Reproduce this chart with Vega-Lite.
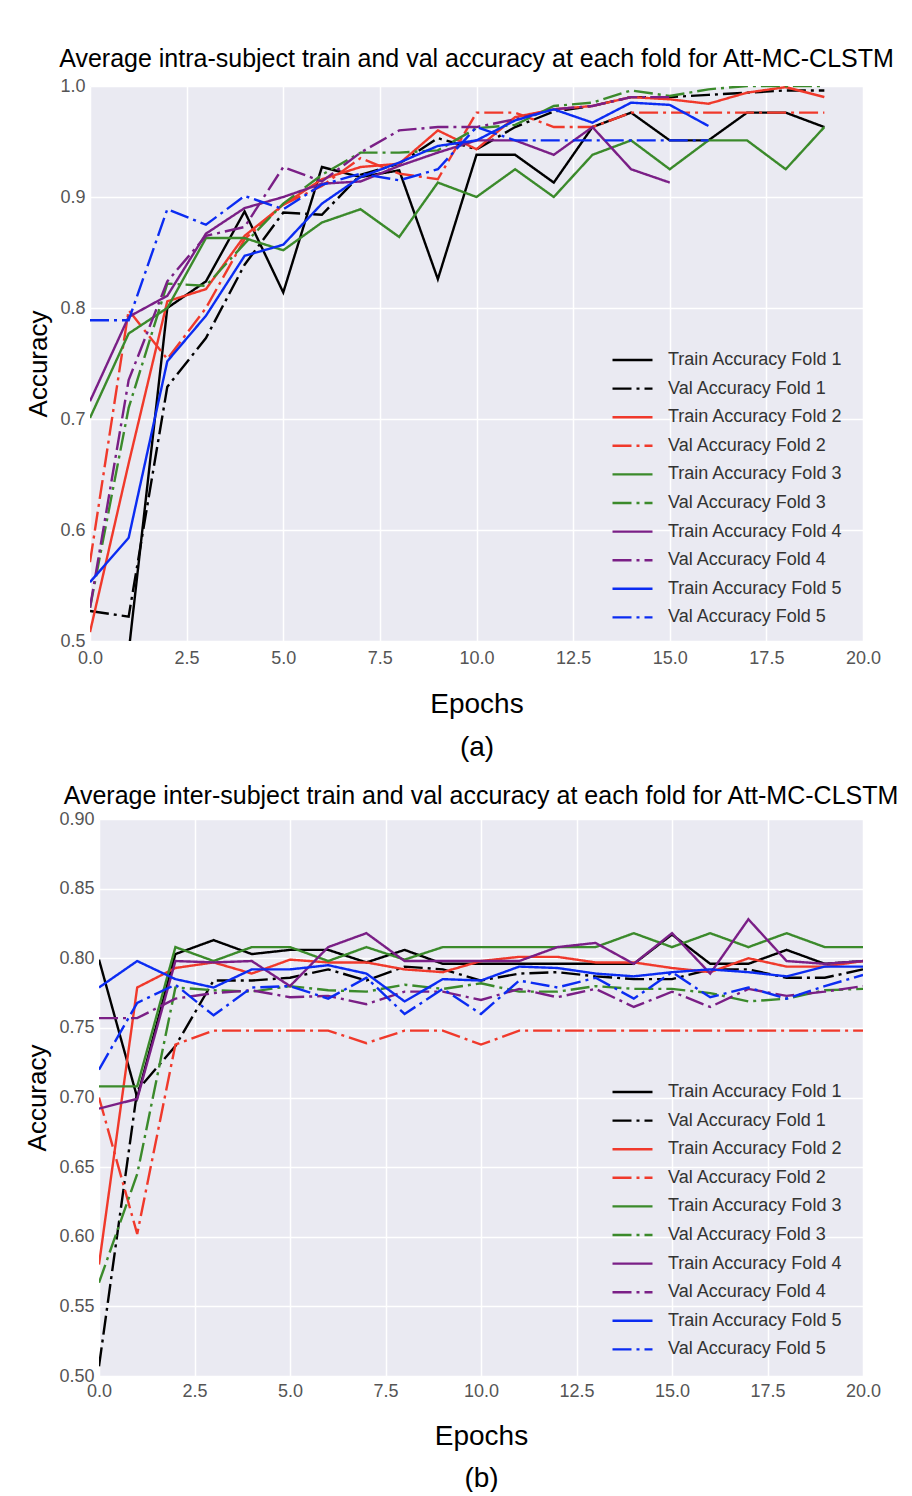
{
"$schema": "https://vega.github.io/schema/vega-lite/v6.json",
"background": "white",
"padding": {"left": 24, "top": 47, "right": 40, "bottom": 0},
"spacing": 23,
"resolve": {"scale": {"color": "independent", "strokeDash": "independent"}, "legend": {"color": "independent", "strokeDash": "independent"}},
"config": {
  "font": "Liberation Sans",
  "view": {"stroke": null, "fill": "#eaeaf2"},
  "axis": {"domain": false, "ticks": false, "grid": true, "gridColor": "white", "gridWidth": 1.5, "labelFont": "Liberation Sans", "labelFontSize": 18, "labelColor": "#555555", "labelPadding": 5, "labelOverlap": false, "labelFlush": false, "labelBound": false, "titleFont": "Liberation Sans", "titleFontWeight": "normal", "titleColor": "black"},
  "legend": {"orient": "none", "title": null, "symbolType": "stroke", "symbolSize": 1600, "symbolStrokeWidth": 2.4, "clipHeight": 20, "rowPadding": 8.6, "labelFont": "Liberation Sans", "labelFontSize": 18, "labelColor": "#333333", "labelOffset": 14, "padding": 0, "labelLimit": 400},
  "title": {"font": "Liberation Sans", "fontSize": 25, "fontWeight": "normal", "color": "black", "anchor": "middle", "frame": "group"}
},
"datasets": {
"intra": [
{"series":"Train Accuracy Fold 1","epoch":0,"acc":0.45},{"series":"Train Accuracy Fold 1","epoch":1,"acc":0.49},{"series":"Train Accuracy Fold 1","epoch":2,"acc":0.80},{"series":"Train Accuracy Fold 1","epoch":3,"acc":0.824},{"series":"Train Accuracy Fold 1","epoch":4,"acc":0.887},{"series":"Train Accuracy Fold 1","epoch":5,"acc":0.814},{"series":"Train Accuracy Fold 1","epoch":6,"acc":0.927},{"series":"Train Accuracy Fold 1","epoch":7,"acc":0.918},{"series":"Train Accuracy Fold 1","epoch":8,"acc":0.924},{"series":"Train Accuracy Fold 1","epoch":9,"acc":0.826},{"series":"Train Accuracy Fold 1","epoch":10,"acc":0.938},{"series":"Train Accuracy Fold 1","epoch":11,"acc":0.938},{"series":"Train Accuracy Fold 1","epoch":12,"acc":0.913},{"series":"Train Accuracy Fold 1","epoch":13,"acc":0.963},{"series":"Train Accuracy Fold 1","epoch":14,"acc":0.976},{"series":"Train Accuracy Fold 1","epoch":15,"acc":0.951},{"series":"Train Accuracy Fold 1","epoch":16,"acc":0.951},{"series":"Train Accuracy Fold 1","epoch":17,"acc":0.976},{"series":"Train Accuracy Fold 1","epoch":18,"acc":0.976},{"series":"Train Accuracy Fold 1","epoch":19,"acc":0.963},
{"series":"Val Accuracy Fold 1","epoch":0,"acc":0.527},{"series":"Val Accuracy Fold 1","epoch":1,"acc":0.522},{"series":"Val Accuracy Fold 1","epoch":2,"acc":0.729},{"series":"Val Accuracy Fold 1","epoch":3,"acc":0.773},{"series":"Val Accuracy Fold 1","epoch":4,"acc":0.839},{"series":"Val Accuracy Fold 1","epoch":5,"acc":0.886},{"series":"Val Accuracy Fold 1","epoch":6,"acc":0.884},{"series":"Val Accuracy Fold 1","epoch":7,"acc":0.92},{"series":"Val Accuracy Fold 1","epoch":8,"acc":0.93},{"series":"Val Accuracy Fold 1","epoch":9,"acc":0.953},{"series":"Val Accuracy Fold 1","epoch":10,"acc":0.943},{"series":"Val Accuracy Fold 1","epoch":11,"acc":0.963},{"series":"Val Accuracy Fold 1","epoch":12,"acc":0.977},{"series":"Val Accuracy Fold 1","epoch":13,"acc":0.982},{"series":"Val Accuracy Fold 1","epoch":14,"acc":0.99},{"series":"Val Accuracy Fold 1","epoch":15,"acc":0.99},{"series":"Val Accuracy Fold 1","epoch":16,"acc":0.992},{"series":"Val Accuracy Fold 1","epoch":17,"acc":0.994},{"series":"Val Accuracy Fold 1","epoch":18,"acc":0.996},{"series":"Val Accuracy Fold 1","epoch":19,"acc":0.996},
{"series":"Train Accuracy Fold 2","epoch":0,"acc":0.508},{"series":"Train Accuracy Fold 2","epoch":1,"acc":0.66},{"series":"Train Accuracy Fold 2","epoch":2,"acc":0.806},{"series":"Train Accuracy Fold 2","epoch":3,"acc":0.817},{"series":"Train Accuracy Fold 2","epoch":4,"acc":0.865},{"series":"Train Accuracy Fold 2","epoch":5,"acc":0.893},{"series":"Train Accuracy Fold 2","epoch":6,"acc":0.916},{"series":"Train Accuracy Fold 2","epoch":7,"acc":0.927},{"series":"Train Accuracy Fold 2","epoch":8,"acc":0.93},{"series":"Train Accuracy Fold 2","epoch":9,"acc":0.96},{"series":"Train Accuracy Fold 2","epoch":10,"acc":0.943},{"series":"Train Accuracy Fold 2","epoch":11,"acc":0.972},{"series":"Train Accuracy Fold 2","epoch":12,"acc":0.979},{"series":"Train Accuracy Fold 2","epoch":13,"acc":0.982},{"series":"Train Accuracy Fold 2","epoch":14,"acc":0.99},{"series":"Train Accuracy Fold 2","epoch":15,"acc":0.988},{"series":"Train Accuracy Fold 2","epoch":16,"acc":0.984},{"series":"Train Accuracy Fold 2","epoch":17,"acc":0.994},{"series":"Train Accuracy Fold 2","epoch":18,"acc":0.999},{"series":"Train Accuracy Fold 2","epoch":19,"acc":0.99},
{"series":"Val Accuracy Fold 2","epoch":0,"acc":0.571},{"series":"Val Accuracy Fold 2","epoch":1,"acc":0.798},{"series":"Val Accuracy Fold 2","epoch":2,"acc":0.754},{"series":"Val Accuracy Fold 2","epoch":3,"acc":0.80},{"series":"Val Accuracy Fold 2","epoch":4,"acc":0.862},{"series":"Val Accuracy Fold 2","epoch":5,"acc":0.893},{"series":"Val Accuracy Fold 2","epoch":6,"acc":0.91},{"series":"Val Accuracy Fold 2","epoch":7,"acc":0.935},{"series":"Val Accuracy Fold 2","epoch":8,"acc":0.921},{"series":"Val Accuracy Fold 2","epoch":9,"acc":0.916},{"series":"Val Accuracy Fold 2","epoch":10,"acc":0.976},{"series":"Val Accuracy Fold 2","epoch":11,"acc":0.976},{"series":"Val Accuracy Fold 2","epoch":12,"acc":0.963},{"series":"Val Accuracy Fold 2","epoch":13,"acc":0.963},{"series":"Val Accuracy Fold 2","epoch":14,"acc":0.976},{"series":"Val Accuracy Fold 2","epoch":15,"acc":0.976},{"series":"Val Accuracy Fold 2","epoch":16,"acc":0.976},{"series":"Val Accuracy Fold 2","epoch":17,"acc":0.976},{"series":"Val Accuracy Fold 2","epoch":18,"acc":0.976},{"series":"Val Accuracy Fold 2","epoch":19,"acc":0.976},
{"series":"Train Accuracy Fold 3","epoch":0,"acc":0.701},{"series":"Train Accuracy Fold 3","epoch":1,"acc":0.777},{"series":"Train Accuracy Fold 3","epoch":2,"acc":0.80},{"series":"Train Accuracy Fold 3","epoch":3,"acc":0.863},{"series":"Train Accuracy Fold 3","epoch":4,"acc":0.863},{"series":"Train Accuracy Fold 3","epoch":5,"acc":0.852},{"series":"Train Accuracy Fold 3","epoch":6,"acc":0.877},{"series":"Train Accuracy Fold 3","epoch":7,"acc":0.889},{"series":"Train Accuracy Fold 3","epoch":8,"acc":0.864},{"series":"Train Accuracy Fold 3","epoch":9,"acc":0.913},{"series":"Train Accuracy Fold 3","epoch":10,"acc":0.90},{"series":"Train Accuracy Fold 3","epoch":11,"acc":0.925},{"series":"Train Accuracy Fold 3","epoch":12,"acc":0.90},{"series":"Train Accuracy Fold 3","epoch":13,"acc":0.938},{"series":"Train Accuracy Fold 3","epoch":14,"acc":0.951},{"series":"Train Accuracy Fold 3","epoch":15,"acc":0.925},{"series":"Train Accuracy Fold 3","epoch":16,"acc":0.951},{"series":"Train Accuracy Fold 3","epoch":17,"acc":0.951},{"series":"Train Accuracy Fold 3","epoch":18,"acc":0.925},{"series":"Train Accuracy Fold 3","epoch":19,"acc":0.963},
{"series":"Val Accuracy Fold 3","epoch":0,"acc":0.53},{"series":"Val Accuracy Fold 3","epoch":1,"acc":0.71},{"series":"Val Accuracy Fold 3","epoch":2,"acc":0.822},{"series":"Val Accuracy Fold 3","epoch":3,"acc":0.82},{"series":"Val Accuracy Fold 3","epoch":4,"acc":0.858},{"series":"Val Accuracy Fold 3","epoch":5,"acc":0.894},{"series":"Val Accuracy Fold 3","epoch":6,"acc":0.92},{"series":"Val Accuracy Fold 3","epoch":7,"acc":0.94},{"series":"Val Accuracy Fold 3","epoch":8,"acc":0.94},{"series":"Val Accuracy Fold 3","epoch":9,"acc":0.942},{"series":"Val Accuracy Fold 3","epoch":10,"acc":0.962},{"series":"Val Accuracy Fold 3","epoch":11,"acc":0.965},{"series":"Val Accuracy Fold 3","epoch":12,"acc":0.982},{"series":"Val Accuracy Fold 3","epoch":13,"acc":0.985},{"series":"Val Accuracy Fold 3","epoch":14,"acc":0.996},{"series":"Val Accuracy Fold 3","epoch":15,"acc":0.991},{"series":"Val Accuracy Fold 3","epoch":16,"acc":0.997},{"series":"Val Accuracy Fold 3","epoch":17,"acc":1.0},{"series":"Val Accuracy Fold 3","epoch":18,"acc":1.0},{"series":"Val Accuracy Fold 3","epoch":19,"acc":1.0},
{"series":"Train Accuracy Fold 4","epoch":0,"acc":0.716},{"series":"Train Accuracy Fold 4","epoch":1,"acc":0.792},{"series":"Train Accuracy Fold 4","epoch":2,"acc":0.811},{"series":"Train Accuracy Fold 4","epoch":3,"acc":0.867},{"series":"Train Accuracy Fold 4","epoch":4,"acc":0.89},{"series":"Train Accuracy Fold 4","epoch":5,"acc":0.90},{"series":"Train Accuracy Fold 4","epoch":6,"acc":0.912},{"series":"Train Accuracy Fold 4","epoch":7,"acc":0.914},{"series":"Train Accuracy Fold 4","epoch":8,"acc":0.928},{"series":"Train Accuracy Fold 4","epoch":9,"acc":0.94},{"series":"Train Accuracy Fold 4","epoch":10,"acc":0.951},{"series":"Train Accuracy Fold 4","epoch":11,"acc":0.951},{"series":"Train Accuracy Fold 4","epoch":12,"acc":0.938},{"series":"Train Accuracy Fold 4","epoch":13,"acc":0.963},{"series":"Train Accuracy Fold 4","epoch":14,"acc":0.925},{"series":"Train Accuracy Fold 4","epoch":15,"acc":0.913},
{"series":"Val Accuracy Fold 4","epoch":0,"acc":0.53},{"series":"Val Accuracy Fold 4","epoch":1,"acc":0.735},{"series":"Val Accuracy Fold 4","epoch":2,"acc":0.824},{"series":"Val Accuracy Fold 4","epoch":3,"acc":0.865},{"series":"Val Accuracy Fold 4","epoch":4,"acc":0.873},{"series":"Val Accuracy Fold 4","epoch":5,"acc":0.927},{"series":"Val Accuracy Fold 4","epoch":6,"acc":0.914},{"series":"Val Accuracy Fold 4","epoch":7,"acc":0.94},{"series":"Val Accuracy Fold 4","epoch":8,"acc":0.96},{"series":"Val Accuracy Fold 4","epoch":9,"acc":0.963},{"series":"Val Accuracy Fold 4","epoch":10,"acc":0.963},{"series":"Val Accuracy Fold 4","epoch":11,"acc":0.97},{"series":"Val Accuracy Fold 4","epoch":12,"acc":0.979},{"series":"Val Accuracy Fold 4","epoch":13,"acc":0.982},{"series":"Val Accuracy Fold 4","epoch":14,"acc":0.99},{"series":"Val Accuracy Fold 4","epoch":15,"acc":0.99},
{"series":"Train Accuracy Fold 5","epoch":0,"acc":0.553},{"series":"Train Accuracy Fold 5","epoch":1,"acc":0.593},{"series":"Train Accuracy Fold 5","epoch":2,"acc":0.752},{"series":"Train Accuracy Fold 5","epoch":3,"acc":0.793},{"series":"Train Accuracy Fold 5","epoch":4,"acc":0.847},{"series":"Train Accuracy Fold 5","epoch":5,"acc":0.857},{"series":"Train Accuracy Fold 5","epoch":6,"acc":0.894},{"series":"Train Accuracy Fold 5","epoch":7,"acc":0.918},{"series":"Train Accuracy Fold 5","epoch":8,"acc":0.931},{"series":"Train Accuracy Fold 5","epoch":9,"acc":0.946},{"series":"Train Accuracy Fold 5","epoch":10,"acc":0.951},{"series":"Train Accuracy Fold 5","epoch":11,"acc":0.969},{"series":"Train Accuracy Fold 5","epoch":12,"acc":0.979},{"series":"Train Accuracy Fold 5","epoch":13,"acc":0.967},{"series":"Train Accuracy Fold 5","epoch":14,"acc":0.985},{"series":"Train Accuracy Fold 5","epoch":15,"acc":0.983},{"series":"Train Accuracy Fold 5","epoch":16,"acc":0.964},
{"series":"Val Accuracy Fold 5","epoch":0,"acc":0.789},{"series":"Val Accuracy Fold 5","epoch":1,"acc":0.789},{"series":"Val Accuracy Fold 5","epoch":2,"acc":0.889},{"series":"Val Accuracy Fold 5","epoch":3,"acc":0.875},{"series":"Val Accuracy Fold 5","epoch":4,"acc":0.901},{"series":"Val Accuracy Fold 5","epoch":5,"acc":0.889},{"series":"Val Accuracy Fold 5","epoch":6,"acc":0.911},{"series":"Val Accuracy Fold 5","epoch":7,"acc":0.921},{"series":"Val Accuracy Fold 5","epoch":8,"acc":0.915},{"series":"Val Accuracy Fold 5","epoch":9,"acc":0.925},{"series":"Val Accuracy Fold 5","epoch":10,"acc":0.963},{"series":"Val Accuracy Fold 5","epoch":11,"acc":0.951},{"series":"Val Accuracy Fold 5","epoch":12,"acc":0.951},{"series":"Val Accuracy Fold 5","epoch":13,"acc":0.951},{"series":"Val Accuracy Fold 5","epoch":14,"acc":0.951},{"series":"Val Accuracy Fold 5","epoch":15,"acc":0.951},{"series":"Val Accuracy Fold 5","epoch":16,"acc":0.951}
],
"inter": [
{"series":"Train Accuracy Fold 1","epoch":0,"acc":0.799},{"series":"Train Accuracy Fold 1","epoch":1,"acc":0.70},{"series":"Train Accuracy Fold 1","epoch":2,"acc":0.803},{"series":"Train Accuracy Fold 1","epoch":3,"acc":0.813},{"series":"Train Accuracy Fold 1","epoch":4,"acc":0.803},{"series":"Train Accuracy Fold 1","epoch":5,"acc":0.806},{"series":"Train Accuracy Fold 1","epoch":6,"acc":0.806},{"series":"Train Accuracy Fold 1","epoch":7,"acc":0.797},{"series":"Train Accuracy Fold 1","epoch":8,"acc":0.806},{"series":"Train Accuracy Fold 1","epoch":9,"acc":0.796},{"series":"Train Accuracy Fold 1","epoch":10,"acc":0.796},{"series":"Train Accuracy Fold 1","epoch":11,"acc":0.796},{"series":"Train Accuracy Fold 1","epoch":12,"acc":0.796},{"series":"Train Accuracy Fold 1","epoch":13,"acc":0.796},{"series":"Train Accuracy Fold 1","epoch":14,"acc":0.796},{"series":"Train Accuracy Fold 1","epoch":15,"acc":0.817},{"series":"Train Accuracy Fold 1","epoch":16,"acc":0.796},{"series":"Train Accuracy Fold 1","epoch":17,"acc":0.796},{"series":"Train Accuracy Fold 1","epoch":18,"acc":0.806},{"series":"Train Accuracy Fold 1","epoch":19,"acc":0.796},{"series":"Train Accuracy Fold 1","epoch":20,"acc":0.798},
{"series":"Val Accuracy Fold 1","epoch":0,"acc":0.507},{"series":"Val Accuracy Fold 1","epoch":1,"acc":0.705},{"series":"Val Accuracy Fold 1","epoch":2,"acc":0.737},{"series":"Val Accuracy Fold 1","epoch":3,"acc":0.784},{"series":"Val Accuracy Fold 1","epoch":4,"acc":0.784},{"series":"Val Accuracy Fold 1","epoch":5,"acc":0.786},{"series":"Val Accuracy Fold 1","epoch":6,"acc":0.792},{"series":"Val Accuracy Fold 1","epoch":7,"acc":0.784},{"series":"Val Accuracy Fold 1","epoch":8,"acc":0.794},{"series":"Val Accuracy Fold 1","epoch":9,"acc":0.792},{"series":"Val Accuracy Fold 1","epoch":10,"acc":0.784},{"series":"Val Accuracy Fold 1","epoch":11,"acc":0.789},{"series":"Val Accuracy Fold 1","epoch":12,"acc":0.79},{"series":"Val Accuracy Fold 1","epoch":13,"acc":0.787},{"series":"Val Accuracy Fold 1","epoch":14,"acc":0.785},{"series":"Val Accuracy Fold 1","epoch":15,"acc":0.785},{"series":"Val Accuracy Fold 1","epoch":16,"acc":0.792},{"series":"Val Accuracy Fold 1","epoch":17,"acc":0.792},{"series":"Val Accuracy Fold 1","epoch":18,"acc":0.786},{"series":"Val Accuracy Fold 1","epoch":19,"acc":0.786},{"series":"Val Accuracy Fold 1","epoch":20,"acc":0.792},
{"series":"Train Accuracy Fold 2","epoch":0,"acc":0.58},{"series":"Train Accuracy Fold 2","epoch":1,"acc":0.779},{"series":"Train Accuracy Fold 2","epoch":2,"acc":0.793},{"series":"Train Accuracy Fold 2","epoch":3,"acc":0.797},{"series":"Train Accuracy Fold 2","epoch":4,"acc":0.789},{"series":"Train Accuracy Fold 2","epoch":5,"acc":0.799},{"series":"Train Accuracy Fold 2","epoch":6,"acc":0.797},{"series":"Train Accuracy Fold 2","epoch":7,"acc":0.797},{"series":"Train Accuracy Fold 2","epoch":8,"acc":0.792},{"series":"Train Accuracy Fold 2","epoch":9,"acc":0.79},{"series":"Train Accuracy Fold 2","epoch":10,"acc":0.798},{"series":"Train Accuracy Fold 2","epoch":11,"acc":0.801},{"series":"Train Accuracy Fold 2","epoch":12,"acc":0.801},{"series":"Train Accuracy Fold 2","epoch":13,"acc":0.797},{"series":"Train Accuracy Fold 2","epoch":14,"acc":0.797},{"series":"Train Accuracy Fold 2","epoch":15,"acc":0.793},{"series":"Train Accuracy Fold 2","epoch":16,"acc":0.79},{"series":"Train Accuracy Fold 2","epoch":17,"acc":0.80},{"series":"Train Accuracy Fold 2","epoch":18,"acc":0.794},{"series":"Train Accuracy Fold 2","epoch":19,"acc":0.794},{"series":"Train Accuracy Fold 2","epoch":20,"acc":0.798},
{"series":"Val Accuracy Fold 2","epoch":0,"acc":0.70},{"series":"Val Accuracy Fold 2","epoch":1,"acc":0.602},{"series":"Val Accuracy Fold 2","epoch":2,"acc":0.738},{"series":"Val Accuracy Fold 2","epoch":3,"acc":0.748},{"series":"Val Accuracy Fold 2","epoch":4,"acc":0.748},{"series":"Val Accuracy Fold 2","epoch":5,"acc":0.748},{"series":"Val Accuracy Fold 2","epoch":6,"acc":0.748},{"series":"Val Accuracy Fold 2","epoch":7,"acc":0.739},{"series":"Val Accuracy Fold 2","epoch":8,"acc":0.748},{"series":"Val Accuracy Fold 2","epoch":9,"acc":0.748},{"series":"Val Accuracy Fold 2","epoch":10,"acc":0.738},{"series":"Val Accuracy Fold 2","epoch":11,"acc":0.748},{"series":"Val Accuracy Fold 2","epoch":12,"acc":0.748},{"series":"Val Accuracy Fold 2","epoch":13,"acc":0.748},{"series":"Val Accuracy Fold 2","epoch":14,"acc":0.748},{"series":"Val Accuracy Fold 2","epoch":15,"acc":0.748},{"series":"Val Accuracy Fold 2","epoch":16,"acc":0.748},{"series":"Val Accuracy Fold 2","epoch":17,"acc":0.748},{"series":"Val Accuracy Fold 2","epoch":18,"acc":0.748},{"series":"Val Accuracy Fold 2","epoch":19,"acc":0.748},{"series":"Val Accuracy Fold 2","epoch":20,"acc":0.748},
{"series":"Train Accuracy Fold 3","epoch":0,"acc":0.708},{"series":"Train Accuracy Fold 3","epoch":1,"acc":0.708},{"series":"Train Accuracy Fold 3","epoch":2,"acc":0.808},{"series":"Train Accuracy Fold 3","epoch":3,"acc":0.798},{"series":"Train Accuracy Fold 3","epoch":4,"acc":0.808},{"series":"Train Accuracy Fold 3","epoch":5,"acc":0.808},{"series":"Train Accuracy Fold 3","epoch":6,"acc":0.798},{"series":"Train Accuracy Fold 3","epoch":7,"acc":0.808},{"series":"Train Accuracy Fold 3","epoch":8,"acc":0.799},{"series":"Train Accuracy Fold 3","epoch":9,"acc":0.808},{"series":"Train Accuracy Fold 3","epoch":10,"acc":0.808},{"series":"Train Accuracy Fold 3","epoch":11,"acc":0.808},{"series":"Train Accuracy Fold 3","epoch":12,"acc":0.808},{"series":"Train Accuracy Fold 3","epoch":13,"acc":0.808},{"series":"Train Accuracy Fold 3","epoch":14,"acc":0.818},{"series":"Train Accuracy Fold 3","epoch":15,"acc":0.808},{"series":"Train Accuracy Fold 3","epoch":16,"acc":0.818},{"series":"Train Accuracy Fold 3","epoch":17,"acc":0.808},{"series":"Train Accuracy Fold 3","epoch":18,"acc":0.818},{"series":"Train Accuracy Fold 3","epoch":19,"acc":0.808},{"series":"Train Accuracy Fold 3","epoch":20,"acc":0.808},
{"series":"Val Accuracy Fold 3","epoch":0,"acc":0.567},{"series":"Val Accuracy Fold 3","epoch":1,"acc":0.645},{"series":"Val Accuracy Fold 3","epoch":2,"acc":0.779},{"series":"Val Accuracy Fold 3","epoch":3,"acc":0.777},{"series":"Val Accuracy Fold 3","epoch":4,"acc":0.776},{"series":"Val Accuracy Fold 3","epoch":5,"acc":0.78},{"series":"Val Accuracy Fold 3","epoch":6,"acc":0.777},{"series":"Val Accuracy Fold 3","epoch":7,"acc":0.776},{"series":"Val Accuracy Fold 3","epoch":8,"acc":0.781},{"series":"Val Accuracy Fold 3","epoch":9,"acc":0.778},{"series":"Val Accuracy Fold 3","epoch":10,"acc":0.782},{"series":"Val Accuracy Fold 3","epoch":11,"acc":0.776},{"series":"Val Accuracy Fold 3","epoch":12,"acc":0.776},{"series":"Val Accuracy Fold 3","epoch":13,"acc":0.78},{"series":"Val Accuracy Fold 3","epoch":14,"acc":0.778},{"series":"Val Accuracy Fold 3","epoch":15,"acc":0.778},{"series":"Val Accuracy Fold 3","epoch":16,"acc":0.775},{"series":"Val Accuracy Fold 3","epoch":17,"acc":0.769},{"series":"Val Accuracy Fold 3","epoch":18,"acc":0.771},{"series":"Val Accuracy Fold 3","epoch":19,"acc":0.777},{"series":"Val Accuracy Fold 3","epoch":20,"acc":0.778},
{"series":"Train Accuracy Fold 4","epoch":0,"acc":0.692},{"series":"Train Accuracy Fold 4","epoch":1,"acc":0.699},{"series":"Train Accuracy Fold 4","epoch":2,"acc":0.798},{"series":"Train Accuracy Fold 4","epoch":3,"acc":0.797},{"series":"Train Accuracy Fold 4","epoch":4,"acc":0.798},{"series":"Train Accuracy Fold 4","epoch":5,"acc":0.78},{"series":"Train Accuracy Fold 4","epoch":6,"acc":0.808},{"series":"Train Accuracy Fold 4","epoch":7,"acc":0.818},{"series":"Train Accuracy Fold 4","epoch":8,"acc":0.798},{"series":"Train Accuracy Fold 4","epoch":9,"acc":0.798},{"series":"Train Accuracy Fold 4","epoch":10,"acc":0.798},{"series":"Train Accuracy Fold 4","epoch":11,"acc":0.798},{"series":"Train Accuracy Fold 4","epoch":12,"acc":0.808},{"series":"Train Accuracy Fold 4","epoch":13,"acc":0.811},{"series":"Train Accuracy Fold 4","epoch":14,"acc":0.796},{"series":"Train Accuracy Fold 4","epoch":15,"acc":0.818},{"series":"Train Accuracy Fold 4","epoch":16,"acc":0.789},{"series":"Train Accuracy Fold 4","epoch":17,"acc":0.828},{"series":"Train Accuracy Fold 4","epoch":18,"acc":0.798},{"series":"Train Accuracy Fold 4","epoch":19,"acc":0.796},{"series":"Train Accuracy Fold 4","epoch":20,"acc":0.798},
{"series":"Val Accuracy Fold 4","epoch":0,"acc":0.757},{"series":"Val Accuracy Fold 4","epoch":1,"acc":0.757},{"series":"Val Accuracy Fold 4","epoch":2,"acc":0.771},{"series":"Val Accuracy Fold 4","epoch":3,"acc":0.775},{"series":"Val Accuracy Fold 4","epoch":4,"acc":0.777},{"series":"Val Accuracy Fold 4","epoch":5,"acc":0.772},{"series":"Val Accuracy Fold 4","epoch":6,"acc":0.773},{"series":"Val Accuracy Fold 4","epoch":7,"acc":0.767},{"series":"Val Accuracy Fold 4","epoch":8,"acc":0.776},{"series":"Val Accuracy Fold 4","epoch":9,"acc":0.776},{"series":"Val Accuracy Fold 4","epoch":10,"acc":0.77},{"series":"Val Accuracy Fold 4","epoch":11,"acc":0.778},{"series":"Val Accuracy Fold 4","epoch":12,"acc":0.772},{"series":"Val Accuracy Fold 4","epoch":13,"acc":0.778},{"series":"Val Accuracy Fold 4","epoch":14,"acc":0.765},{"series":"Val Accuracy Fold 4","epoch":15,"acc":0.776},{"series":"Val Accuracy Fold 4","epoch":16,"acc":0.765},{"series":"Val Accuracy Fold 4","epoch":17,"acc":0.778},{"series":"Val Accuracy Fold 4","epoch":18,"acc":0.773},{"series":"Val Accuracy Fold 4","epoch":19,"acc":0.776},{"series":"Val Accuracy Fold 4","epoch":20,"acc":0.78},
{"series":"Train Accuracy Fold 5","epoch":0,"acc":0.779},{"series":"Train Accuracy Fold 5","epoch":1,"acc":0.798},{"series":"Train Accuracy Fold 5","epoch":2,"acc":0.785},{"series":"Train Accuracy Fold 5","epoch":3,"acc":0.779},{"series":"Train Accuracy Fold 5","epoch":4,"acc":0.792},{"series":"Train Accuracy Fold 5","epoch":5,"acc":0.792},{"series":"Train Accuracy Fold 5","epoch":6,"acc":0.795},{"series":"Train Accuracy Fold 5","epoch":7,"acc":0.789},{"series":"Train Accuracy Fold 5","epoch":8,"acc":0.769},{"series":"Train Accuracy Fold 5","epoch":9,"acc":0.785},{"series":"Train Accuracy Fold 5","epoch":10,"acc":0.784},{"series":"Train Accuracy Fold 5","epoch":11,"acc":0.794},{"series":"Train Accuracy Fold 5","epoch":12,"acc":0.793},{"series":"Train Accuracy Fold 5","epoch":13,"acc":0.789},{"series":"Train Accuracy Fold 5","epoch":14,"acc":0.787},{"series":"Train Accuracy Fold 5","epoch":15,"acc":0.79},{"series":"Train Accuracy Fold 5","epoch":16,"acc":0.792},{"series":"Train Accuracy Fold 5","epoch":17,"acc":0.79},{"series":"Train Accuracy Fold 5","epoch":18,"acc":0.787},{"series":"Train Accuracy Fold 5","epoch":19,"acc":0.794},{"series":"Train Accuracy Fold 5","epoch":20,"acc":0.794},
{"series":"Val Accuracy Fold 5","epoch":0,"acc":0.72},{"series":"Val Accuracy Fold 5","epoch":1,"acc":0.768},{"series":"Val Accuracy Fold 5","epoch":2,"acc":0.781},{"series":"Val Accuracy Fold 5","epoch":3,"acc":0.759},{"series":"Val Accuracy Fold 5","epoch":4,"acc":0.779},{"series":"Val Accuracy Fold 5","epoch":5,"acc":0.78},{"series":"Val Accuracy Fold 5","epoch":6,"acc":0.771},{"series":"Val Accuracy Fold 5","epoch":7,"acc":0.786},{"series":"Val Accuracy Fold 5","epoch":8,"acc":0.76},{"series":"Val Accuracy Fold 5","epoch":9,"acc":0.778},{"series":"Val Accuracy Fold 5","epoch":10,"acc":0.76},{"series":"Val Accuracy Fold 5","epoch":11,"acc":0.784},{"series":"Val Accuracy Fold 5","epoch":12,"acc":0.779},{"series":"Val Accuracy Fold 5","epoch":13,"acc":0.786},{"series":"Val Accuracy Fold 5","epoch":14,"acc":0.771},{"series":"Val Accuracy Fold 5","epoch":15,"acc":0.79},{"series":"Val Accuracy Fold 5","epoch":16,"acc":0.772},{"series":"Val Accuracy Fold 5","epoch":17,"acc":0.779},{"series":"Val Accuracy Fold 5","epoch":18,"acc":0.771},{"series":"Val Accuracy Fold 5","epoch":19,"acc":0.78},{"series":"Val Accuracy Fold 5","epoch":20,"acc":0.788}
]
},
"vconcat": [
{
  "title": {"text": "Average intra-subject train and val accuracy at each fold for Att-MC-CLSTM", "offset": 5},
  "width": 773, "height": 555,
  "data": {"name": "intra"},
  "mark": {"type": "line", "clip": true, "strokeWidth": 2.4},
  "encoding": {
    "x": {"field": "epoch", "type": "quantitative", "scale": {"domain": [0, 20], "nice": false, "zero": false},
          "axis": {"values": [0, 2.5, 5, 7.5, 10, 12.5, 15, 17.5, 20], "format": ".1f", "labelPadding": 8, "title": ["Epochs", "(a)"], "titleFontSize": 28, "titleLineHeight": 43, "titlePadding": 23}},
    "y": {"field": "acc", "type": "quantitative", "scale": {"domain": [0.5, 1.0], "nice": false, "zero": false},
          "axis": {"values": [0.5, 0.6, 0.7, 0.8, 0.9, 1.0], "format": ".1f", "title": "Accuracy", "titleFontSize": 26, "titlePadding": 8}},
    "color": {"field": "series", "type": "nominal",
      "scale": {"domain": ["Train Accuracy Fold 1","Val Accuracy Fold 1","Train Accuracy Fold 2","Val Accuracy Fold 2","Train Accuracy Fold 3","Val Accuracy Fold 3","Train Accuracy Fold 4","Val Accuracy Fold 4","Train Accuracy Fold 5","Val Accuracy Fold 5"],
                "range": ["#000000","#000000","#f0392b","#f0392b","#3b8a2b","#3b8a2b","#7a1f86","#7a1f86","#0b2cf2","#0b2cf2"]},
      "legend": {"legendX": 521, "legendY": 264}},
    "strokeDash": {"field": "series", "type": "nominal",
      "scale": {"domain": ["Train Accuracy Fold 1","Val Accuracy Fold 1","Train Accuracy Fold 2","Val Accuracy Fold 2","Train Accuracy Fold 3","Val Accuracy Fold 3","Train Accuracy Fold 4","Val Accuracy Fold 4","Train Accuracy Fold 5","Val Accuracy Fold 5"],
                "range": [[1,0],[19,5,3,5],[1,0],[19,5,3,5],[1,0],[19,5,3,5],[1,0],[19,5,3,5],[1,0],[19,5,3,5]]},
      "legend": {"legendX": 521, "legendY": 264}}
  }
},
{
  "spacing": -67,
  "resolve": {"scale": {"color": "independent", "strokeDash": "independent"}, "legend": {"color": "independent", "strokeDash": "independent"}},
  "hconcat": [
    {
      "width": 1, "height": 1,
      "view": {"fill": null, "stroke": null},
      "data": {"values": []},
      "mark": "point"
    },
    {
      "title": {"text": "Average inter-subject train and val accuracy at each fold for Att-MC-CLSTM", "offset": 1},
      "width": 764, "height": 557,
      "data": {"name": "inter"},
      "mark": {"type": "line", "clip": true, "strokeWidth": 2.4},
      "encoding": {
        "x": {"field": "epoch", "type": "quantitative", "scale": {"domain": [0, 20], "nice": false, "zero": false},
              "axis": {"values": [0, 2.5, 5, 7.5, 10, 12.5, 15, 17.5, 20], "format": ".1f", "labelPadding": 6, "title": ["Epochs", "(b)"], "titleFontSize": 28, "titleLineHeight": 42, "titlePadding": 22}},
        "y": {"field": "acc", "type": "quantitative", "scale": {"domain": [0.5, 0.9], "nice": false, "zero": false},
              "axis": {"values": [0.5, 0.55, 0.6, 0.65, 0.7, 0.75, 0.8, 0.85, 0.9], "format": ".2f", "title": "Accuracy", "titleFontSize": 26, "titlePadding": 8}},
        "color": {"field": "series", "type": "nominal",
          "scale": {"domain": ["Train Accuracy Fold 1","Val Accuracy Fold 1","Train Accuracy Fold 2","Val Accuracy Fold 2","Train Accuracy Fold 3","Val Accuracy Fold 3","Train Accuracy Fold 4","Val Accuracy Fold 4","Train Accuracy Fold 5","Val Accuracy Fold 5"],
                    "range": ["#000000","#000000","#f0392b","#f0392b","#3b8a2b","#3b8a2b","#7a1f86","#7a1f86","#0b2cf2","#0b2cf2"]},
          "legend": {"legendX": 512, "legendY": 263}},
        "strokeDash": {"field": "series", "type": "nominal",
          "scale": {"domain": ["Train Accuracy Fold 1","Val Accuracy Fold 1","Train Accuracy Fold 2","Val Accuracy Fold 2","Train Accuracy Fold 3","Val Accuracy Fold 3","Train Accuracy Fold 4","Val Accuracy Fold 4","Train Accuracy Fold 5","Val Accuracy Fold 5"],
                    "range": [[1,0],[19,5,3,5],[1,0],[19,5,3,5],[1,0],[19,5,3,5],[1,0],[19,5,3,5],[1,0],[19,5,3,5]]},
          "legend": {"legendX": 512, "legendY": 263}}
      }
    }
  ]
}
]
}
